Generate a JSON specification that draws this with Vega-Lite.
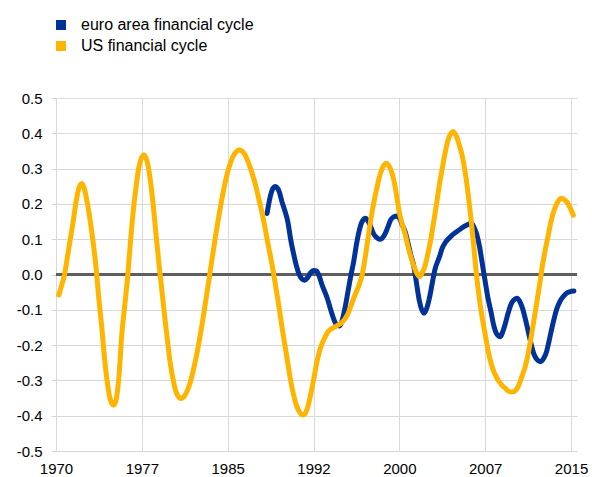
{
  "$schema": "https://vega.github.io/schema/vega-lite/v6.json",
  "autosize": {"type": "none"},
  "padding": {"left": 56, "top": 98, "right": 15, "bottom": 26},
  "width": 521,
  "height": 353,
  "background": "white",
  "config": {
    "view": {"stroke": null},
    "font": "Liberation Sans",
    "axis": {"labelOverlap": false, "labelFlush": false}
  },
  "datasets": {
    "d": [
      {"t":1970.25,"s":"US","v":-0.058},{"t":1970.5,"s":"US","v":-0.03},{"t":1970.75,"s":"US","v":0.0},{"t":1971.0,"s":"US","v":0.05},{"t":1971.25,"s":"US","v":0.1},{"t":1971.5,"s":"US","v":0.15},{"t":1971.75,"s":"US","v":0.205},{"t":1972.0,"s":"US","v":0.245},{"t":1972.26,"s":"US","v":0.258},{"t":1972.5,"s":"US","v":0.24},{"t":1972.75,"s":"US","v":0.2},{"t":1973.0,"s":"US","v":0.15},{"t":1973.25,"s":"US","v":0.09},{"t":1973.5,"s":"US","v":0.02},{"t":1973.75,"s":"US","v":-0.07},{"t":1974.0,"s":"US","v":-0.15},{"t":1974.25,"s":"US","v":-0.24},{"t":1974.5,"s":"US","v":-0.31},{"t":1974.75,"s":"US","v":-0.355},{"t":1975.03,"s":"US","v":-0.37},{"t":1975.25,"s":"US","v":-0.355},{"t":1975.5,"s":"US","v":-0.29},{"t":1975.75,"s":"US","v":-0.17},{"t":1976.0,"s":"US","v":-0.09},{"t":1976.25,"s":"US","v":-0.01},{"t":1976.5,"s":"US","v":0.09},{"t":1976.75,"s":"US","v":0.18},{"t":1977.0,"s":"US","v":0.25},{"t":1977.25,"s":"US","v":0.305},{"t":1977.67,"s":"US","v":0.339},{"t":1978.0,"s":"US","v":0.315},{"t":1978.25,"s":"US","v":0.265},{"t":1978.5,"s":"US","v":0.195},{"t":1978.75,"s":"US","v":0.11},{"t":1979.0,"s":"US","v":0.03},{"t":1979.25,"s":"US","v":-0.045},{"t":1979.5,"s":"US","v":-0.12},{"t":1979.75,"s":"US","v":-0.19},{"t":1980.0,"s":"US","v":-0.255},{"t":1980.25,"s":"US","v":-0.3},{"t":1980.5,"s":"US","v":-0.333},{"t":1980.9,"s":"US","v":-0.351},{"t":1981.25,"s":"US","v":-0.343},{"t":1981.5,"s":"US","v":-0.327},{"t":1981.75,"s":"US","v":-0.303},{"t":1982.0,"s":"US","v":-0.271},{"t":1982.25,"s":"US","v":-0.234},{"t":1982.5,"s":"US","v":-0.191},{"t":1982.75,"s":"US","v":-0.144},{"t":1983.0,"s":"US","v":-0.092},{"t":1983.25,"s":"US","v":-0.039},{"t":1983.5,"s":"US","v":0.015},{"t":1983.75,"s":"US","v":0.069},{"t":1984.0,"s":"US","v":0.121},{"t":1984.25,"s":"US","v":0.17},{"t":1984.5,"s":"US","v":0.215},{"t":1984.75,"s":"US","v":0.256},{"t":1985.0,"s":"US","v":0.29},{"t":1985.25,"s":"US","v":0.317},{"t":1985.5,"s":"US","v":0.337},{"t":1985.75,"s":"US","v":0.348},{"t":1985.98,"s":"US","v":0.353},{"t":1986.25,"s":"US","v":0.35},{"t":1986.5,"s":"US","v":0.34},{"t":1986.75,"s":"US","v":0.322},{"t":1987.0,"s":"US","v":0.3},{"t":1987.25,"s":"US","v":0.275},{"t":1987.5,"s":"US","v":0.245},{"t":1987.75,"s":"US","v":0.21},{"t":1988.0,"s":"US","v":0.175},{"t":1988.25,"s":"US","v":0.135},{"t":1988.5,"s":"US","v":0.09},{"t":1988.75,"s":"US","v":0.05},{"t":1989.0,"s":"US","v":0.005},{"t":1989.25,"s":"US","v":-0.045},{"t":1989.5,"s":"US","v":-0.095},{"t":1989.75,"s":"US","v":-0.15},{"t":1990.0,"s":"US","v":-0.2},{"t":1990.25,"s":"US","v":-0.25},{"t":1990.5,"s":"US","v":-0.3},{"t":1990.75,"s":"US","v":-0.34},{"t":1991.0,"s":"US","v":-0.37},{"t":1991.25,"s":"US","v":-0.388},{"t":1991.57,"s":"US","v":-0.398},{"t":1991.75,"s":"US","v":-0.395},{"t":1992.0,"s":"US","v":-0.375},{"t":1992.25,"s":"US","v":-0.34},{"t":1992.5,"s":"US","v":-0.3},{"t":1992.75,"s":"US","v":-0.255},{"t":1993.0,"s":"US","v":-0.22},{"t":1993.25,"s":"US","v":-0.195},{"t":1993.5,"s":"US","v":-0.178},{"t":1993.75,"s":"US","v":-0.163},{"t":1994.0,"s":"US","v":-0.155},{"t":1994.5,"s":"US","v":-0.146},{"t":1995.0,"s":"US","v":-0.135},{"t":1995.5,"s":"US","v":-0.112},{"t":1995.75,"s":"US","v":-0.09},{"t":1996.0,"s":"US","v":-0.068},{"t":1996.25,"s":"US","v":-0.048},{"t":1996.5,"s":"US","v":-0.028},{"t":1996.75,"s":"US","v":0.0},{"t":1997.0,"s":"US","v":0.045},{"t":1997.25,"s":"US","v":0.1},{"t":1997.5,"s":"US","v":0.155},{"t":1997.75,"s":"US","v":0.2},{"t":1998.0,"s":"US","v":0.24},{"t":1998.25,"s":"US","v":0.275},{"t":1998.5,"s":"US","v":0.3},{"t":1998.86,"s":"US","v":0.315},{"t":1999.25,"s":"US","v":0.297},{"t":1999.5,"s":"US","v":0.27},{"t":1999.75,"s":"US","v":0.225},{"t":2000.0,"s":"US","v":0.175},{"t":2000.25,"s":"US","v":0.143},{"t":2000.5,"s":"US","v":0.115},{"t":2000.75,"s":"US","v":0.08},{"t":2001.0,"s":"US","v":0.05},{"t":2001.25,"s":"US","v":0.025},{"t":2001.5,"s":"US","v":0.005},{"t":2001.78,"s":"US","v":-0.006},{"t":2002.0,"s":"US","v":0.005},{"t":2002.25,"s":"US","v":0.025},{"t":2002.5,"s":"US","v":0.06},{"t":2002.75,"s":"US","v":0.1},{"t":2003.0,"s":"US","v":0.15},{"t":2003.25,"s":"US","v":0.2},{"t":2003.5,"s":"US","v":0.255},{"t":2003.75,"s":"US","v":0.3},{"t":2004.0,"s":"US","v":0.345},{"t":2004.25,"s":"US","v":0.38},{"t":2004.69,"s":"US","v":0.405},{"t":2005.0,"s":"US","v":0.39},{"t":2005.25,"s":"US","v":0.365},{"t":2005.5,"s":"US","v":0.335},{"t":2005.75,"s":"US","v":0.29},{"t":2006.0,"s":"US","v":0.23},{"t":2006.25,"s":"US","v":0.16},{"t":2006.5,"s":"US","v":0.08},{"t":2006.75,"s":"US","v":-0.005},{"t":2007.0,"s":"US","v":-0.07},{"t":2007.25,"s":"US","v":-0.125},{"t":2007.5,"s":"US","v":-0.17},{"t":2007.75,"s":"US","v":-0.215},{"t":2008.0,"s":"US","v":-0.25},{"t":2008.25,"s":"US","v":-0.275},{"t":2008.5,"s":"US","v":-0.292},{"t":2008.75,"s":"US","v":-0.305},{"t":2009.0,"s":"US","v":-0.315},{"t":2009.25,"s":"US","v":-0.322},{"t":2009.5,"s":"US","v":-0.33},{"t":2009.79,"s":"US","v":-0.333},{"t":2010.0,"s":"US","v":-0.332},{"t":2010.25,"s":"US","v":-0.325},{"t":2010.5,"s":"US","v":-0.308},{"t":2010.75,"s":"US","v":-0.285},{"t":2011.0,"s":"US","v":-0.26},{"t":2011.25,"s":"US","v":-0.225},{"t":2011.5,"s":"US","v":-0.18},{"t":2011.75,"s":"US","v":-0.13},{"t":2012.0,"s":"US","v":-0.08},{"t":2012.25,"s":"US","v":-0.03},{"t":2012.5,"s":"US","v":0.025},{"t":2012.75,"s":"US","v":0.07},{"t":2013.0,"s":"US","v":0.11},{"t":2013.25,"s":"US","v":0.15},{"t":2013.5,"s":"US","v":0.18},{"t":2013.75,"s":"US","v":0.2},{"t":2014.0,"s":"US","v":0.213},{"t":2014.16,"s":"US","v":0.216},{"t":2014.5,"s":"US","v":0.21},{"t":2014.75,"s":"US","v":0.2},{"t":2015.0,"s":"US","v":0.183},{"t":2015.2,"s":"US","v":0.168},
      {"t":1988.44,"s":"EA","v":0.173},{"t":1988.75,"s":"EA","v":0.225},{"t":1989.0,"s":"EA","v":0.246},{"t":1989.16,"s":"EA","v":0.249},{"t":1989.5,"s":"EA","v":0.235},{"t":1989.75,"s":"EA","v":0.205},{"t":1990.0,"s":"EA","v":0.18},{"t":1990.25,"s":"EA","v":0.15},{"t":1990.5,"s":"EA","v":0.1},{"t":1990.75,"s":"EA","v":0.06},{"t":1991.0,"s":"EA","v":0.025},{"t":1991.25,"s":"EA","v":0.0},{"t":1991.5,"s":"EA","v":-0.013},{"t":1991.72,"s":"EA","v":-0.016},{"t":1992.0,"s":"EA","v":-0.008},{"t":1992.25,"s":"EA","v":0.005},{"t":1992.5,"s":"EA","v":0.011},{"t":1992.75,"s":"EA","v":0.01},{"t":1993.0,"s":"EA","v":-0.005},{"t":1993.25,"s":"EA","v":-0.03},{"t":1993.5,"s":"EA","v":-0.05},{"t":1993.75,"s":"EA","v":-0.072},{"t":1994.0,"s":"EA","v":-0.1},{"t":1994.25,"s":"EA","v":-0.125},{"t":1994.5,"s":"EA","v":-0.142},{"t":1994.78,"s":"EA","v":-0.146},{"t":1995.0,"s":"EA","v":-0.13},{"t":1995.25,"s":"EA","v":-0.095},{"t":1995.5,"s":"EA","v":-0.05},{"t":1995.75,"s":"EA","v":-0.005},{"t":1996.0,"s":"EA","v":0.035},{"t":1996.25,"s":"EA","v":0.085},{"t":1996.5,"s":"EA","v":0.125},{"t":1996.75,"s":"EA","v":0.15},{"t":1997.05,"s":"EA","v":0.159},{"t":1997.25,"s":"EA","v":0.152},{"t":1997.5,"s":"EA","v":0.135},{"t":1997.75,"s":"EA","v":0.115},{"t":1998.0,"s":"EA","v":0.105},{"t":1998.25,"s":"EA","v":0.1},{"t":1998.5,"s":"EA","v":0.103},{"t":1998.75,"s":"EA","v":0.115},{"t":1999.0,"s":"EA","v":0.135},{"t":1999.25,"s":"EA","v":0.155},{"t":1999.5,"s":"EA","v":0.163},{"t":1999.82,"s":"EA","v":0.166},{"t":2000.0,"s":"EA","v":0.16},{"t":2000.25,"s":"EA","v":0.14},{"t":2000.5,"s":"EA","v":0.122},{"t":2000.75,"s":"EA","v":0.09},{"t":2001.0,"s":"EA","v":0.055},{"t":2001.25,"s":"EA","v":0.025},{"t":2001.5,"s":"EA","v":-0.025},{"t":2001.75,"s":"EA","v":-0.075},{"t":2002.15,"s":"EA","v":-0.11},{"t":2002.4,"s":"EA","v":-0.095},{"t":2002.65,"s":"EA","v":-0.063},{"t":2002.9,"s":"EA","v":-0.02},{"t":2003.1,"s":"EA","v":0.013},{"t":2003.5,"s":"EA","v":0.05},{"t":2003.75,"s":"EA","v":0.075},{"t":2004.0,"s":"EA","v":0.09},{"t":2004.5,"s":"EA","v":0.108},{"t":2005.0,"s":"EA","v":0.121},{"t":2005.5,"s":"EA","v":0.133},{"t":2005.9,"s":"EA","v":0.14},{"t":2006.29,"s":"EA","v":0.145},{"t":2006.5,"s":"EA","v":0.135},{"t":2006.75,"s":"EA","v":0.115},{"t":2007.0,"s":"EA","v":0.08},{"t":2007.25,"s":"EA","v":0.03},{"t":2007.5,"s":"EA","v":-0.02},{"t":2007.75,"s":"EA","v":-0.068},{"t":2008.0,"s":"EA","v":-0.105},{"t":2008.25,"s":"EA","v":-0.145},{"t":2008.5,"s":"EA","v":-0.168},{"t":2008.83,"s":"EA","v":-0.176},{"t":2009.0,"s":"EA","v":-0.165},{"t":2009.25,"s":"EA","v":-0.14},{"t":2009.5,"s":"EA","v":-0.11},{"t":2009.75,"s":"EA","v":-0.085},{"t":2010.0,"s":"EA","v":-0.072},{"t":2010.28,"s":"EA","v":-0.067},{"t":2010.5,"s":"EA","v":-0.075},{"t":2010.75,"s":"EA","v":-0.095},{"t":2011.0,"s":"EA","v":-0.125},{"t":2011.25,"s":"EA","v":-0.16},{"t":2011.5,"s":"EA","v":-0.195},{"t":2011.75,"s":"EA","v":-0.225},{"t":2012.0,"s":"EA","v":-0.24},{"t":2012.33,"s":"EA","v":-0.247},{"t":2012.6,"s":"EA","v":-0.238},{"t":2012.85,"s":"EA","v":-0.22},{"t":2013.0,"s":"EA","v":-0.2},{"t":2013.25,"s":"EA","v":-0.163},{"t":2013.5,"s":"EA","v":-0.128},{"t":2013.75,"s":"EA","v":-0.098},{"t":2014.0,"s":"EA","v":-0.078},{"t":2014.3,"s":"EA","v":-0.063},{"t":2014.6,"s":"EA","v":-0.053},{"t":2014.9,"s":"EA","v":-0.049},{"t":2015.25,"s":"EA","v":-0.047}
    ]
  },
  "data": {"name": "d"},
  "layer": [
    {
      "mark": {"type": "rule", "color": "#5f5f5f", "strokeWidth": 2},
      "encoding": {"y": {"datum": 0, "type": "quantitative"}}
    },
    {
      "transform": [{"filter": "datum.s == 'EA'"}],
      "mark": {"type": "line", "interpolate": "monotone", "strokeWidth": 5, "strokeCap": "round", "strokeJoin": "round"},
      "encoding": {
        "x": {"field": "t", "type": "quantitative"},
        "y": {"field": "v", "type": "quantitative"},
        "color": {"field": "s", "type": "nominal"}
      }
    },
    {
      "transform": [{"filter": "datum.s == 'US'"}],
      "mark": {"type": "line", "interpolate": "monotone", "strokeWidth": 5, "strokeCap": "round", "strokeJoin": "round"},
      "encoding": {
        "x": {
          "field": "t", "type": "quantitative",
          "scale": {"domain": [1970, 2015.52], "nice": false, "zero": false},
          "axis": {
            "title": null, "values": [1970, 1977.5, 1985, 1992.5, 2000, 2007.5, 2015], "tickCount": 20,
            "labelExpr": "toString(floor(datum.value))",
            "domain": false, "ticks": false, "grid": true, "gridColor": "#d9d9d9", "gridWidth": 1,
            "labelFont": "Liberation Sans", "labelFontSize": 15, "labelColor": "#000000",
            "labelPadding": 10, "labelFlush": false, "labelOverlap": false
          }
        },
        "y": {
          "field": "v", "type": "quantitative",
          "scale": {"domain": [-0.5, 0.5], "nice": false, "zero": false},
          "axis": {
            "title": null, "values": [-0.5, -0.4, -0.3, -0.2, -0.1, 0, 0.1, 0.2, 0.3, 0.4, 0.5], "tickCount": 20,
            "labelExpr": "replace(format(datum.value, '.1f'), '\u2212', '-')",
            "domain": false, "ticks": true, "tickSize": 5, "tickColor": "#d9d9d9",
            "grid": true, "gridColor": "#d9d9d9", "gridWidth": 1,
            "labelFont": "Liberation Sans", "labelFontSize": 15, "labelColor": "#000000",
            "labelPadding": 9, "labelOverlap": false, "labelFlush": false
          }
        },
        "color": {
          "field": "s", "type": "nominal",
          "scale": {"domain": ["EA", "US"], "range": ["#003299", "#FFB400"]},
          "legend": {
            "title": null, "orient": "none", "legendX": -3, "legendY": -81, "padding": 0,
            "symbolType": "square", "symbolSize": 25, "symbolStrokeWidth": 5,
            "labelExpr": "datum.label == 'EA' ? 'euro area financial cycle' : 'US financial cycle'",
            "labelFont": "Liberation Sans", "labelFontSize": 16, "labelColor": "#000000",
            "labelLimit": 400, "labelOffset": 12, "rowPadding": -14
          }
        }
      }
    }
  ]
}
